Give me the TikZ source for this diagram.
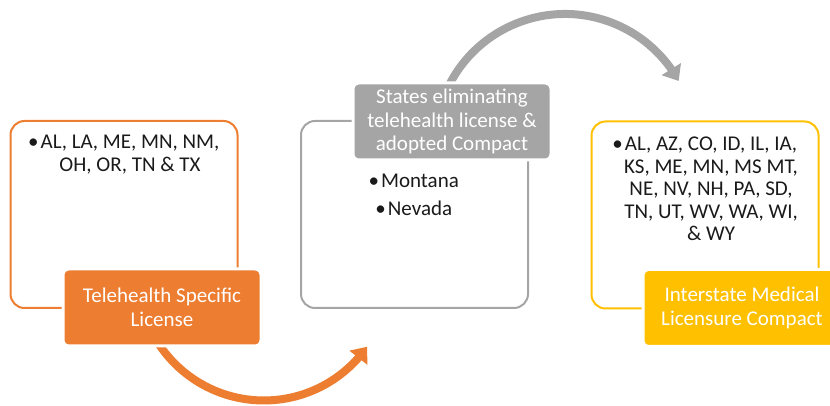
\documentclass[tikz,border=0pt]{standalone}
\usepackage{fontspec}
\setmainfont{Carlito}
\usetikzlibrary{arrows.meta,bending}
\definecolor{orng}{HTML}{ED7D31}
\definecolor{grayc}{HTML}{A5A5A5}
\definecolor{yelw}{HTML}{FFC000}
\definecolor{txt}{HTML}{1A1A1A}
\newcommand{\bul}{\llap{\textbullet\hspace{2pt}}}
\begin{document}
\begin{tikzpicture}[x=1pt,y=1pt,
  outline/.style={draw=#1, line width=2pt, rounded corners=14pt, minimum width=227, minimum height=187, inner sep=0},
  labelbox/.style={fill=#1, draw=white, line width=3pt, rounded corners=6pt, minimum width=198, minimum height=77, inner sep=0, text=white, align=center, font=\fontsize{21}{23.5}\selectfont},
  listtext/.style={anchor=north, inner sep=0, align=center, text=txt, font=\fontsize{21}{22.5}\selectfont},
  arcarrow/.style={draw=#1, line width=8pt, -{Triangle[width=22pt,length=14pt,flex]}}
]
\useasboundingbox (0,0) rectangle (830,406);
% arcs (connectors)
\coordinate (gcen) at (565,262);
\coordinate (ocen) at (263,131);
\draw[arcarrow=grayc] (gcen) ++(155:130) arc[start angle=155, end angle=29, radius=130pt];
\draw[arcarrow=orng] (ocen) ++(211:125) arc[start angle=211, end angle=325, radius=126pt];
% outline boxes
\node[outline=orng] (obox) at (124,191.5) {};
\node[outline=grayc] (gbox) at (414.5,191.5) {};
\node[outline=yelw] (ybox) at (705,191) {};
% label boxes
\node[labelbox=orng] (olab) at (162,98.5) {Telehealth Specific\\License};
\node[labelbox=grayc] (glab) at (452,284.5) {States eliminating\\telehealth license \&\\adopted Compact};
\node[labelbox=yelw] (ylab) at (742,98) {Interstate Medical\\Licensure Compact};
% lists
\node[listtext] (olist) at (130,271) {\bul AL, LA, ME, MN, NM,\\OH, OR, TN \& TX};
\node[listtext] (gl1) at (420,232) {\bul Montana};
\node[listtext] (gl2) at (420,205) {\bul Nevada};
\node[listtext] (ylist) at (711,269) {\bul AL, AZ, CO, ID, IL, IA,\\KS, ME, MN, MS MT,\\NE, NV, NH, PA, SD,\\TN, UT, WV, WA, WI,\\\& WY};
\end{tikzpicture}
\end{document}
